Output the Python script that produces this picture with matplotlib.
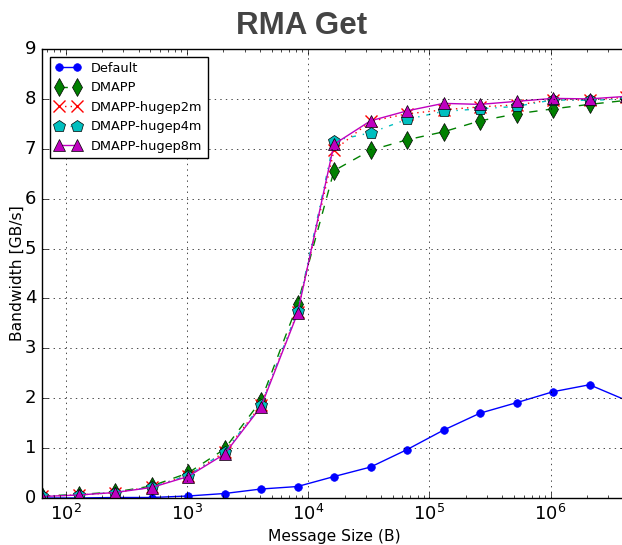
import matplotlib
matplotlib.use("Agg")
from matplotlib import pyplot as plt

plt.style.use('classic')

sizes = [64, 128, 256, 512, 1024, 2048, 4096, 8192, 16384, 32768, 65536,
         131072, 262144, 524288, 1048576, 2097152, 4194304]

default = [0.0, 0.0, 0.01, 0.01, 0.04, 0.09, 0.18, 0.23, 0.43, 0.62, 0.97,
           1.36, 1.70, 1.91, 2.13, 2.27, 1.96]
dmapp = [0.04, 0.07, 0.12, 0.24, 0.50, 0.98, 1.95, 3.88, 6.56, 6.97, 7.18,
         7.34, 7.56, 7.70, 7.80, 7.89, 7.97]
hugep2m = [0.04, 0.06, 0.11, 0.22, 0.45, 0.92, 1.86, 3.72, 6.97, 7.55, 7.70,
           7.78, 7.84, 7.88, 7.98, 7.98, 8.03]
hugep4m = [0.04, 0.06, 0.11, 0.22, 0.45, 0.92, 1.86, 3.75, 7.16, 7.32, 7.59,
           7.75, 7.80, 7.85, 7.98, 7.97, 8.00]
hugep8m = [0.03, 0.06, 0.11, 0.21, 0.43, 0.88, 1.83, 3.70, 7.09, 7.56, 7.76,
           7.91, 7.89, 7.95, 8.01, 8.00, 8.05]

fig = plt.figure(figsize=(6.22, 5.45), dpi=100, facecolor='white')
ax = fig.add_axes([42 / 622, 47 / 545, 584 / 622, 449 / 545])

ax.plot(sizes, default, 'b-o', markersize=5.5, markeredgecolor='b', label='Default')
ax.plot(sizes, dmapp, 'g--d', markersize=9, label='DMAPP')
ax.plot(sizes, hugep2m, 'r:x', markersize=9, markeredgewidth=1, label='DMAPP-hugep2m')
ax.plot(sizes, hugep4m, 'c-.p', markersize=9, label='DMAPP-hugep4m')
ax.plot(sizes, hugep8m, 'm-^', markersize=9, label='DMAPP-hugep8m')

ax.set_xscale('log')
ax.set_xlim(64, 4194304)
ax.set_ylim(0, 9)
ax.grid(True)
ax.tick_params(labelsize=13)
ax.set_xlabel('Message Size (B)', fontsize=11.2)
ax.set_ylabel('Bandwidth [GB/s]', fontsize=11.2)
ax.xaxis.set_label_coords(0.5, -0.069)
ax.yaxis.set_label_coords(-0.029, 0.5)
ax.legend(loc='upper left', fontsize=9.3, numpoints=2, handlelength=2.0,
          borderaxespad=0.6, labelspacing=0.5)

fig.text(302 / 622, 0.952, 'RMA Get', ha='center', va='center', fontsize=22.5,
         fontweight='bold', color='#444444', family='Liberation Sans')

fig.savefig('out.png', dpi=100, facecolor='white')
